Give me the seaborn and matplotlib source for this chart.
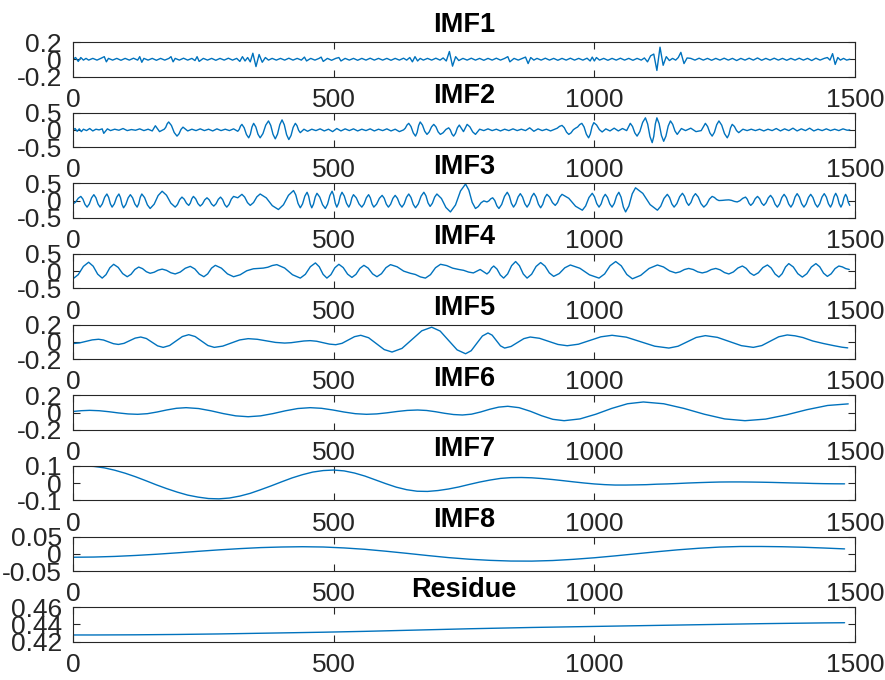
import numpy as np
import pandas as pd
import matplotlib
matplotlib.use("Agg")
import matplotlib.pyplot as plt
import seaborn as sns

titles = ["IMF1", "IMF2", "IMF3", "IMF4", "IMF5", "IMF6", "IMF7", "IMF8", "Residue"]
x_ticks = [0, 500, 1000, 1500]
x_ticklabels = ["0", "500", "1000", "1500"]
y_limits = [(-0.2, 0.2), (-0.5, 0.5), (-0.5, 0.5), (-0.5, 0.5), (-0.2, 0.2),
            (-0.2, 0.2), (-0.1, 0.1), (-0.05, 0.05), (0.42, 0.46)]
y_ticks = [[-0.2, 0, 0.2], [-0.5, 0, 0.5], [-0.5, 0, 0.5], [-0.5, 0, 0.5], [-0.2, 0, 0.2],
           [-0.2, 0, 0.2], [-0.1, 0, 0.1], [-0.05, 0, 0.05], [0.42, 0.44, 0.46]]
y_ticklabels = [["-0.2", "0", "0.2"], ["-0.5", "0", "0.5"], ["-0.5", "0", "0.5"],
                ["-0.5", "0", "0.5"], ["-0.2", "0", "0.2"], ["-0.2", "0", "0.2"],
                ["-0.1", "0", "0.1"], ["-0.05", "0", "0.05"], ["0.42", "0.44", "0.46"]]

# ---- IMF1 (sample, value) points ----
imf1_pts = [
    (0, 0), (5, .02), (10, -.025), (15, .02), (20, -.01), (25, .01), (30, -.01), (38, .01), (46, -.01),
    (54, .012), (60, .03), (64, -.03), (68, .01), (76, -.01), (84, .01), (92, -.012), (100, .01),
    (108, -.01), (116, .012), (124, -.01), (128, .03), (132, -.035), (136, .01), (144, -.01), (152, .01),
    (160, -.012), (168, .01), (176, -.01), (184, .01), (188, .03), (192, -.03), (196, .01), (204, -.01),
    (212, .012), (220, -.01), (228, .01), (234, -.015), (238, .03), (242, -.025), (250, .01), (258, -.01),
    (266, .01), (274, -.012), (282, .01), (290, -.01), (298, .012), (306, -.01), (314, .01),
    (320, -.025), (325, .03), (330, -.02), (335, .02), (340, -.03), (345, .07), (351, -.085), (357, .055),
    (363, -.035), (369, .02), (375, -.01), (382, .01), (390, -.01),
    (398, .01), (406, -.01), (414, .012), (422, -.01), (430, .01), (438, -.01), (444, .025), (448, -.02),
    (456, .01), (464, -.01), (472, .01), (476, .025), (480, -.025), (488, .01), (496, -.012), (504, .01),
    (510, .02), (514, -.02), (522, .01), (530, -.01), (538, .01), (546, -.012), (554, .01), (562, -.01),
    (570, .012), (578, -.01), (586, .01), (594, -.01), (602, .01), (610, -.012), (618, .01), (626, -.01),
    (634, .012), (640, -.01),
    (646, .02), (651, -.03), (656, .03), (661, -.02), (666, .01),
    (672, -.01), (680, .01), (688, -.01), (696, .012), (704, -.01), (710, .015),
    (716, -.02), (722, .09), (728, -.08), (734, .03), (740, -.015),
    (748, .01), (756, -.01), (764, .012), (772, -.01), (780, .01), (788, -.012), (796, .01), (804, -.01),
    (812, .012), (820, -.01), (828, .01), (834, .03), (838, -.03), (846, .01), (854, -.01), (862, .01),
    (868, .025), (873, -.05), (878, .02), (884, -.01),
    (890, .01), (898, -.01), (906, .012), (914, -.01), (922, .01), (930, -.012), (938, .01), (946, -.01),
    (954, .012), (962, -.01), (970, .01), (978, -.01), (986, .012), (992, -.02), (996, .025), (1000, -.02),
    (1004, .02), (1010, -.01), (1018, .01), (1026, -.012), (1034, .01), (1042, -.01), (1050, .012),
    (1058, -.01), (1066, .01), (1074, -.012), (1082, .01), (1090, -.01), (1096, .015),
    (1102, -.03), (1108, .04), (1114, .06), (1120, -.13), (1126, .14), (1132, -.07), (1138, .03),
    (1144, -.015), (1150, .01), (1156, -.01),
    (1161, .02), (1166, .08), (1172, -.05), (1178, .015),
    (1185, .01), (1193, -.01), (1201, .012), (1209, -.01), (1217, .01), (1225, -.012), (1233, .01),
    (1241, -.01), (1249, .012), (1257, -.01), (1265, .01), (1273, -.015), (1281, .01), (1289, -.01),
    (1297, .012), (1305, -.01), (1313, .015), (1321, -.012), (1329, .01), (1337, -.01), (1345, .012),
    (1353, -.01), (1361, .01), (1369, -.012), (1377, .01), (1385, -.01), (1393, .012), (1401, -.01),
    (1409, .01), (1417, -.015), (1425, .012), (1433, -.01), (1441, .01),
    (1447, .02), (1452, -.01), (1457, .065), (1462, -.06), (1467, .02), (1472, -.01),
    (1478, .01), (1484, -.01), (1490, 0),
]

# ---- IMF2: turning points and in-between points ----
imf2_ext = [
    (0, 0), (4, .04), (8, -.04), (12, .03), (16, -.05), (20, .02), (26, -.02), (32, .04), (38, -.03),
    (44, .02), (50, 0), (56, .03), (59, -.1), (66, .03), (72, -.02), (80, .02), (88, -.01), (96, .04),
    (104, -.02), (112, .01), (120, -.01), (128, .03), (136, -.02), (144, .02), (152, -.03), (158, .12),
    (166, -.05), (175, .02), (183.5, .23), (199.5, -.18), (211, .08), (220, -.03), (228, .02), (236, -.02),
    (244, .03), (252, -.02), (260, .02), (268, -.03), (276, .03), (284, -.02), (292, .02), (300, -.02),
    (308, .03), (316, -.04), (324, .16), (337, -.23), (346.5, .19), (359, -.23), (375, .26), (388, -.26),
    (401, .29), (414, -.28), (426.5, .19), (436, -.08), (443, .02), (450, -.04), (458, .02), (466, -.02),
    (474, .03), (482, -.03), (490, .02), (498, -.05), (506, .04), (514, -.03), (522, .03), (530, -.02),
    (538, .03), (546, -.03), (554, .02), (562, -.02), (570, .03), (578, -.03), (586, .02), (594, -.02),
    (602, .03), (610, -.03), (618, .02), (626, -.05), (634, 0), (644, .19), (657, -.18), (666, .23),
    (679, -.13), (692, .16), (704.6, -.13), (720.6, .06), (730, -.18), (741, .14), (749, -.05),
    (756, .16), (772, -.13), (780, .02), (788, -.02), (796, .03), (804, -.02), (812, .02), (820, -.03),
    (828, .02), (836, -.02), (844, .03), (852, -.02), (860, .02), (868, -.02), (876, .06), (884, -.04),
    (892, .03), (900, -.02), (908, .02), (916, -.03), (924, .02), (938, .13), (951, -.13), (964, .05),
    (976, .19), (989, -.23), (999, .21), (1015, -.06), (1022, .03), (1030, -.03), (1038, .05),
    (1046, -.03), (1054, .04), (1062, -.02), (1069, .19), (1082, -.18), (1098, .35), (1111, -.37),
    (1120, .35), (1133, -.33), (1146, .26), (1159, -.13), (1167, .04), (1175, -.02), (1185, .05),
    (1195, -.05), (1205, -.02), (1213, .19), (1226, -.18), (1239, .26), (1255, -.23), (1264.5, .16),
    (1277, -.08), (1285, .02), (1293, -.02), (1301, .02), (1309, -.02), (1317, .02), (1325, -.03),
    (1333, .02), (1341, -.02), (1349, .04), (1357, -.03), (1365, .03), (1373, -.02), (1381, .05),
    (1389, -.03), (1397, .03), (1405, -.02), (1413, .05), (1421, -.03), (1429, .02), (1437, -.02),
    (1445, .03), (1453, -.02), (1461, .02), (1469, -.02), (1477, .03), (1485, -.01), (1490, 0),
]
imf2_mid = [
    (177.8, .073), (180.7, .178), (188.8, .128), (194.2, -.078), (203.3, -.115), (207.2, .015),
    (318.7, .01), (321.3, .11), (328.3, .063), (332.7, -.133), (340.2, -.125), (343.3, .085),
    (350.7, .085), (354.8, -.125), (364.3, -.108), (369.7, .138), (379.3, .13), (383.7, -.13),
    (392.3, -.122), (396.7, .152), (405.3, .148), (409.7, -.138), (418.2, -.162), (422.3, .072),
    (429.7, .122), (432.8, -.012), (637.3, .048), (640.7, .142), (648.3, .098), (652.7, -.088),
    (660, -.078), (663, .128), (670.3, .14), (674.7, -.04), (683.3, -.058), (687.7, .088),
    (696.2, .088), (700.4, -.058), (709.9, -.083), (715.3, .013), (723.7, 0), (726.9, -.12),
    (733.7, -.1), (737.3, .06), (761.3, .088), (766.7, -.058), (928.7, .048), (933.3, .103),
    (942.3, .065), (946.7, -.065), (955.3, -.085), (959.7, .005), (968, .085), (972, .155),
    (980.3, .085), (984.7, -.125), (992.3, -.12), (995.7, .1), (1004.3, .143), (1009.7, .008),
    (1073.3, .098), (1077.7, -.088), (1087.3, -.048), (1092.7, .218), (1102.3, .17), (1106.7, -.19),
    (1114, -.19), (1117, .17), (1124.3, .18), (1128.7, -.16), (1137.3, -.182), (1141.7, .112),
    (1150.3, .162), (1154.7, -.032), (1217.3, .098), (1221.7, -.088), (1230.3, -.07), (1234.7, .15),
    (1244.3, .138), (1249.7, -.108), (1258.2, -.132), (1261.3, .062), (1268.7, .1), (1272.8, -.02),
]

# ---- IMF3 ----
imf3_ext = [
    (0, -.1), (15, .12), (27, -.19), (40, .17), (52, -.19), (65, .19), (75, -.19), (88, .19), (97, -.21),
    (110, .17), (123, -.19), (132, .19), (148, -.23), (171, .27), (196, -.19), (209, .10), (222, -.14),
    (231, .12), (244, -.16), (257, .08), (270, -.16), (283, .10), (295, -.19), (308, .12), (316, .08),
    (324, .18), (340, -.14), (359, .19), (394, -.26), (423, .29), (436, -.21), (449, .24), (458, -.21),
    (468, .21), (484, -.23), (497, .27), (506, -.19), (516, .24), (529, -.19), (538, .17), (554, -.19),
    (567, .17), (577, -.19), (593, .15), (605, -.19), (618, .15), (631, -.19), (644, .19), (657, -.21),
    (673, .24), (685, -.17), (698, .19), (724, -.33), (753, .48), (772, -.23), (788, -.01), (794, -.04),
    (805, .08), (817, -.23), (833, .24), (845, -.19), (858, .2), (871, -.19), (884, .21), (897, -.21),
    (909, .18), (925, -.14), (938, .18), (977, -.28), (996, .21), (1009, -.19), (1021, .18), (1034, -.19),
    (1047, .24), (1060, -.33), (1079, .37), (1121, -.28), (1140, .18), (1153, -.19), (1169, .21),
    (1181, -.14), (1194, .2), (1210, -.19), (1226, .12), (1239, 0), (1258, .02), (1274, -.04), (1290, .1),
    (1300, -.14), (1313, .12), (1325, -.14), (1338, .15), (1351, -.19), (1364, .18), (1377, -.19),
    (1389, .2), (1402, -.19), (1415, .18), (1428, -.19), (1441, .2), (1453, -.19), (1463, .21),
    (1473, -.19), (1482, .18), (1490, -.14),
]
imf3_mid = [
    (5, -.045), (10, .065), (19, .042), (23, -.112), (31.3, -.1), (35.7, .08), (44, .08), (48, -.1),
    (56.3, -.095), (60.7, .095), (68.3, .095), (71.7, -.095), (79.3, -.095), (83.7, .095), (91, .09),
    (94, -.11), (101.3, -.115), (105.7, .075), (114.3, .08), (118.7, -.1), (126, -.095), (129, .095),
    (137.3, .085), (142.7, -.125), (155.7, -.105), (163.3, .145), (179.3, .155), (187.7, -.075),
    (200.3, -.118), (204.7, .028), (213.3, .04), (217.7, -.08), (225, -.075), (228, .055), (235.3, .05),
    (239.7, -.09), (248.3, -.1), (252.7, .02), (261.3, .02), (265.7, -.1), (274.3, -.095), (278.7, .035),
    (287, .028), (291, -.118), (299.3, -.112), (303.7, .042), (329.3, .1), (334.7, -.06), (346.3, -.058),
    (352.7, .108), (370.7, .078), (382.3, -.148), (403.7, -.122), (413.3, .152), (427.3, .165),
    (431.7, -.085), (440.3, -.098), (444.7, .128), (452, .128), (455, -.098), (461.3, -.105),
    (464.7, .105), (473.3, .1), (478.7, -.12), (488.3, -.105), (492.7, .145), (500, .155), (503, -.075),
    (509.3, -.082), (512.7, .132), (520.3, .132), (524.7, -.082), (532, -.1), (535, .08), (543.3, .08),
    (548.7, -.1), (558.3, -.1), (562.7, .08), (570.3, .08), (573.7, -.1), (582.3, -.105), (587.7, .065),
    (597, .065), (601, -.105), (609.3, -.105), (613.7, .065), (622.3, .065), (626.7, -.105),
    (635.3, -.095), (639.7, .095), (648.3, .09), (652.7, -.11), (662.3, -.098), (667.7, .128),
    (677, .138), (681, -.068), (689.3, -.08), (693.7, .1), (706.7, .06), (715.3, -.2), (733.7, -.128),
    (743.3, .278), (759.3, .302), (765.7, -.052), (777.3, -.175), (782.7, -.065), (797.7, -.01),
    (801.3, .05), (809, .002), (813, -.152), (822.3, -.112), (827.7, .122), (837, .132), (841, -.082),
    (849.3, -.092), (853.7, .102), (862.3, .102), (866.7, -.092), (875.3, -.09), (879.7, .11),
    (888.3, .105), (892.7, -.105), (901, -.112), (905, .082), (914.3, .1), (919.7, -.06), (929.3, -.06),
    (933.7, .1), (951, .065), (964, -.165), (983.3, -.158), (989.7, .088), (1000.3, .11), (1004.7, -.09),
    (1013, -.098), (1017, .088), (1025.3, .088), (1029.7, -.098), (1038.3, -.082), (1042.7, .132),
    (1051.3, .098), (1055.7, -.188), (1066.3, -.155), (1072.7, .195), (1093, .208), (1107, -.118),
    (1127.3, -.165), (1133.7, .065), (1144.3, .088), (1148.7, -.098), (1158.3, -.09), (1163.7, .11),
    (1173, .122), (1177, -.052), (1185.3, -.055), (1189.7, .115), (1199.3, .102), (1204.7, -.092),
    (1215.3, -.112), (1220.7, .042), (1230.3, .09), (1234.7, .03), (1245.3, .005), (1251.7, .015),
    (1263.3, .005), (1268.7, -.025), (1279.3, -.005), (1284.7, .065), (1293.3, .04), (1296.7, -.08),
    (1304.3, -.075), (1308.7, .055), (1317, .055), (1321, -.075), (1329.3, -.068), (1333.7, .078),
    (1342.3, .065), (1346.7, -.105), (1355.3, -.098), (1359.7, .088), (1368.3, .088), (1372.7, -.098),
    (1381, -.092), (1385, .102), (1393.3, .102), (1397.7, -.092), (1406.3, -.098), (1410.7, .088),
    (1419.3, .088), (1423.7, -.098), (1432.3, -.092), (1436.7, .102), (1445, .102), (1449, -.092),
    (1456.3, -.09), (1459.7, .11), (1466.3, .11), (1469.7, -.09), (1476, -.098), (1479, .088),
    (1484.7, .1), (1487.3, -.06),
]

# ---- IMF4 ----
imf4_ext = [
    (0, -.22), (30, .26), (56, -.2), (78, .2), (104, -.16), (126, .12), (148, -.06), (171, .06),
    (196, -.08), (225, .14), (251, -.16), (273, .17), (308, -.16), (346, .07), (365, .09), (391, .19),
    (436, -.2), (465, .24), (487, -.2), (510, .2), (535, -.18), (558, .17), (583, -.16), (609, .19),
    (647, -.06), (676, -.2), (705, .2), (740, .05), (768, -.05), (781, .05), (794, -.08), (807, .15),
    (826, -.2), (849, .28), (871, -.2), (897, .25), (922, -.15), (954, .18), (1009, -.2), (1041, .28),
    (1073, -.22), (1121, .18), (1156, -.05), (1181, .08), (1207, -.05), (1233, .08), (1258, -.08),
    (1284, .15), (1306, -.12), (1332, .18), (1354, -.17), (1373, .22), (1399, -.17), (1425, .22),
    (1447, -.15), (1469, .15), (1489, .05),
]
imf4_mid = [
    (10, -.1), (20, .14), (38.7, .145), (47.3, -.085), (63.3, -.1), (70.7, .1), (86.7, .11), (95.3, -.07),
    (111.3, -.09), (118.7, .05), (133.3, .075), (140.7, -.015), (155.7, -.03), (163.3, .03), (179.3, .025),
    (187.7, -.045), (205.7, -.025), (215.3, .085), (233.7, .065), (242.3, -.085), (258.3, -.078),
    (265.7, .088), (284.7, .088), (296.3, -.078), (320.7, -.103), (333.3, .013), (373.7, .115),
    (382.3, .165), (406, .092), (421, -.102), (445.7, -.09), (455.3, .13), (472.3, .13), (479.7, -.09),
    (494.7, -.1), (502.3, .1), (518.3, .105), (526.7, -.085), (542.7, -.092), (550.3, .082), (566.3, .088),
    (574.7, -.078), (591.7, -.072), (600.3, .102), (621.7, .128), (634.3, .002), (656.7, -.095),
    (666.3, -.165), (685.7, -.1), (695.3, .1), (716.7, .163), (728.3, .088), (749.3, .025), (758.7, -.025),
    (798.3, -.022), (802.7, .092), (813.3, .062), (819.7, -.112), (833.7, -.08), (841.3, .16), (856.3, .16),
    (863.7, -.08), (879.7, -.088), (888.3, .138), (905.3, .15), (913.7, -.05), (932.7, -.068), (943.3, .098),
    (972.3, .085), (990.7, -.105), (1019.7, -.08), (1030.3, .16), (1051.7, .155), (1062.3, -.095),
    (1089, -.12), (1105, .08), (1132.7, .123), (1144.3, .008), (1164.3, -.018), (1172.7, .048),
    (1189.7, .048), (1198.3, -.018), (1215.7, -.018), (1224.3, .048), (1241.3, .04), (1249.7, -.04),
    (1266.7, -.022), (1275.3, .092), (1291.3, .082), (1298.7, -.052), (1314.7, -.045), (1323.3, .105),
    (1339.3, .092), (1346.7, -.082), (1360.3, -.072), (1366.7, .122), (1381.7, .122), (1390.3, -.072),
    (1407.7, -.072), (1416.3, .122), (1432.3, .128), (1439.7, -.058), (1454.3, -.075), (1461.7, .075),
    (1475.7, .125), (1482.3, .075),
]

# ---- IMF5 ----
imf5_ext = [
    (0, -.02), (49, .03), (87, -.03), (130, .056), (173, -.064), (222, .083), (271, -.064), (336, .037),
    (406, -.014), (455, .014), (504, -.033), (552, .076), (612, -.118), (688, .17), (753, -.138),
    (796, .103), (828, -.072), (877, .056), (948, -.045), (1034, .076), (1143, -.072), (1213, .072),
    (1305, -.064), (1370, .08), (1400, .05), (1419, .01), (1440, -.02), (1460, -.045), (1475, -.062),
    (1486, -.07),
]
imf5_mid = [
    (12.3, -.0127), (24.5, .005), (36.8, .0227), (58.5, .0212), (68, 0), (77.5, -.0212), (97.8, -.0174),
    (108.5, .013), (119.3, .0434), (140.8, .0385), (151.5, -.004), (162.3, -.0465), (185.3, -.0425),
    (197.5, .0095), (209.8, .0615), (234.3, .0615), (246.5, .0095), (258.8, -.0425), (287.3, -.0493),
    (303.5, -.0135), (319.8, .0222), (353.5, .0296), (371, .0115), (388.5, -.0066), (418.3, -.0099),
    (430.5, 0), (442.8, .0099), (467.3, .0071), (479.5, -.0095), (491.8, -.0261), (516, -.0171),
    (528, .0215), (540, .0601), (567, .0477), (582, -.021), (597, -.0897), (631, -.076), (650, .026),
    (669, .128), (704.3, .125), (720.5, .016), (736.8, -.093), (763.8, -.1028), (774.5, -.0175),
    (785.3, .0678), (804, .0775), (812, .0155), (820, -.0465), (840.3, -.0533), (852.5, -.008),
    (864.8, .0373), (894.8, .0413), (912.5, .0055), (930.3, -.0303), (969.5, -.0273), (991, .0155),
    (1012.5, .0583), (1061.3, .0544), (1088.5, .002), (1115.8, -.0504), (1160.5, -.051), (1178, 0),
    (1195.5, .051), (1236, .0521), (1259, .004), (1282, -.0441), (1321.3, -.043), (1337.5, .008),
    (1353.8, .059), (1385, .07),
]

# ---- IMF6 ----
imf6_ext = [
    (0, .012), (32, .025), (124, -.021), (217, .056), (336, -.049), (455, .056), (563, -.021),
    (661, .029), (747, -.029), (834, .072), (942, -.095), (1094, .122), (1289, -.095), (1487, .1),
]
imf6_mid = [
    (16, .021), (50.4, .0206), (68.8, .0091), (87.2, -.0051), (105.6, -.0166), (142.6, -.0137),
    (161.2, .0056), (179.8, .0294), (198.4, .0487), (240.8, .046), (264.6, .0198), (288.4, -.0128),
    (312.2, -.039), (359.8, -.039), (383.6, -.0128), (407.4, .0198), (431.2, .046), (476.6, .0487),
    (498.2, .0294), (519.8, .0056), (541.4, -.0137), (582.6, -.0163), (602.2, -.0038), (621.8, .0118),
    (641.4, .0243), (678.2, .0235), (695.4, .009), (712.6, -.009), (729.8, -.0235), (764.4, -.0194),
    (781.8, .0058), (799.2, .0372), (816.6, .0624), (855.6, .0561), (877.2, .0144), (898.8, -.0374),
    (920.4, -.0791), (972.4, -.0744), (1002.8, -.0201), (1033.2, .0471), (1063.6, .1014), (1133, .1014),
    (1172, .0471), (1211, -.0201), (1250, -.0744), (1328.6, -.0765), (1368.2, -.0277), (1407.8, .0327),
    (1447.4, .0815),
]

# ---- IMF7: one value every 20 samples ----
imf7_vals = [0.1, 0.1, 0.097, 0.0887, 0.075, 0.0576, 0.037, 0.0139, -0.01, -0.032,
             -0.052, -0.0693, -0.081, -0.0892, -0.091, -0.0862, -0.075, -0.059, -0.038, -0.0159,
             0.0075, 0.0301, 0.049, 0.0643, 0.073, 0.076, 0.071, 0.0586, 0.041, 0.019,
             -0.003, -0.0232, -0.038, -0.0468, -0.048, -0.0429, -0.034, -0.0221, -0.0075, 0.0063,
             0.018, 0.0275, 0.032, 0.0327, 0.031, 0.0266, 0.021, 0.0144, 0.0075, 0.001,
             -0.0046, -0.0086, -0.011, -0.011, -0.010, -0.0088, -0.006, -0.0044, -0.002, 0.0008,
             0.003, 0.0049, 0.0065, 0.007, 0.007, 0.0064, 0.0055, 0.0043, 0.0027, 0.0011,
             0.0, -0.0018, -0.003, -0.0037, -0.004]
# ---- IMF8 and residue: one value every 40 samples ----
imf8_vals = [-0.01, -0.0094, -0.0076, -0.0048, -0.0013, 0.0028, 0.0072, 0.0114, 0.015, 0.018,
             0.0197, 0.0205, 0.0197, 0.017, 0.013, 0.0075, 0.0014, -0.005, -0.011, -0.0157,
             -0.019, -0.021, -0.0212, -0.0195, -0.016, -0.0115, -0.006, 0.0, 0.006, 0.0115,
             0.016, 0.0195, 0.0212, 0.0212, 0.0205, 0.019, 0.0168, 0.0142]
residue_vals = [0.4278, 0.4278, 0.4279, 0.4280, 0.4282, 0.4284, 0.4287, 0.4290, 0.4294, 0.4298,
                0.4302, 0.4306, 0.4310, 0.4315, 0.4320, 0.4326, 0.4332, 0.4338, 0.4344, 0.4350,
                0.4355, 0.4360, 0.4365, 0.4369, 0.4373, 0.4377, 0.4381, 0.4385, 0.4389, 0.4393,
                0.4397, 0.4401, 0.4405, 0.4409, 0.4412, 0.4415, 0.4418, 0.4420]


def from_pts(*lists):
    pts = sorted(p for lst in lists for p in lst)
    a = np.array(pts, dtype=float)
    return a[:, 0], a[:, 1]


def from_grid(vals, step):
    return np.arange(len(vals)) * step, np.array(vals, dtype=float)


series = [from_pts(imf1_pts), from_pts(imf2_ext, imf2_mid), from_pts(imf3_ext, imf3_mid),
          from_pts(imf4_ext, imf4_mid), from_pts(imf5_ext, imf5_mid), from_pts(imf6_ext, imf6_mid),
          from_grid(imf7_vals, 20), from_grid(imf8_vals, 40), from_grid(residue_vals, 40)]

sns.set_style("ticks")
plt.rcParams['font.family'] = ['Liberation Sans', 'DejaVu Sans']
plt.rcParams['axes.linewidth'] = 0.8
plt.rcParams['axes.edgecolor'] = '#262626'

W, H = 885, 680
fig = plt.figure(figsize=(W / 100, H / 100), dpi=100)
fig.patch.set_facecolor('white')

left_px, right_px = 73, 855
top0, pitch, hgt = 42, 70.65, 34.5
line_color = '#0072BD'

for k in range(9):
    top = top0 + pitch * k
    ax = fig.add_axes([left_px / W, 1 - (top + hgt) / H, (right_px - left_px) / W, hgt / H])
    xs, ys = series[k]
    df = pd.DataFrame({'t': xs, 'v': ys})
    sns.lineplot(data=df, x='t', y='v', ax=ax, color=line_color, linewidth=1.0,
                 estimator=None, sort=False)
    ax.set_xlim(0, 1500)
    ax.set_ylim(*y_limits[k])
    ax.set_xticks(x_ticks)
    ax.set_xticklabels(x_ticklabels)
    ax.set_yticks(y_ticks[k])
    ax.set_yticklabels(y_ticklabels[k])
    ax.set_xlabel('')
    ax.set_ylabel('')
    ax.tick_params(direction='in', top=True, right=True, length=5, width=0.8,
                   colors='#262626', labelsize=19, pad=8, labelcolor='#262626')
    for s in ax.spines.values():
        s.set_visible(True)
        s.set_color('#262626')
    ax.set_title(titles[k], fontsize=19.5, fontweight='bold', pad=7, color='black')

fig.savefig('out.png', dpi=100, facecolor='white')
